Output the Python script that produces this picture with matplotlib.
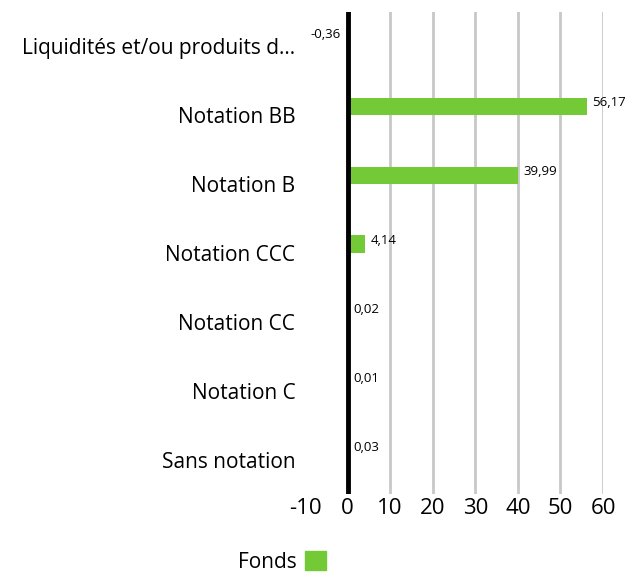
import matplotlib
matplotlib.use('Agg')
import matplotlib.pyplot as plt
from matplotlib.patches import Patch

plt.rcParams['font.family'] = ['Open Sans', 'DejaVu Sans']

# Données
categories = ['Liquidités et/ou produits d...', 'Notation BB', 'Notation B',
              'Notation CCC', 'Notation CC', 'Notation C', 'Sans notation']
valeurs = [-0.36, 56.17, 39.99, 4.14, 0.02, 0.01, 0.03]
etiquettes = ['-0,36', '56,17', '39,99', '4,14', '0,02', '0,01', '0,03']
x_ticks = [-10, 0, 10, 20, 30, 40, 50, 60]
vert = '#74c936'

fig = plt.figure(figsize=(6.28, 5.72), dpi=100)
W, H = 628, 572
ax = fig.add_axes([305 / W, 78 / H, (603 - 305) / W, (494 - 12) / H])

pos = list(range(len(categories)))
decal = 0.13
ypos = [p - decal for p in pos]

# Grille et ligne du zéro
for x in x_ticks[2:]:
    ax.axvline(x, color='#c8c8c8', lw=2, zorder=0)
ax.axvline(0, color='black', lw=3.5, zorder=3)

ax.barh(ypos, valeurs, height=0.25, color=vert, zorder=2)

# Étiquettes de valeurs
for y, v, t in zip(ypos, valeurs, etiquettes):
    if v < 0:
        ax.text(-1.5, y - 0.05, t, ha='right', va='center', fontsize=9.5)
    else:
        ax.text(v + 1.3, y - 0.05, t, ha='left', va='center', fontsize=9.5)

ax.set_xlim(-10, 60)
ax.set_ylim(len(categories) - 0.5, -0.5)
ax.set_yticks(pos)
ax.set_yticklabels(categories, fontsize=15)
ax.set_xticks(x_ticks)
ax.set_xticklabels([str(x) for x in x_ticks], fontsize=16)
ax.tick_params(length=0, axis='y', pad=7)
ax.tick_params(length=0, axis='x', pad=3)
for s in ax.spines.values():
    s.set_visible(False)

fig.legend(handles=[Patch(color=vert, label='Fonds')], loc='center',
           bbox_to_anchor=(282 / W, 1 - 562 / H), frameon=False,
           markerfirst=False, fontsize=15, handlelength=1, handleheight=1,
           handletextpad=0.4)

fig.savefig('out.png', dpi=100)
